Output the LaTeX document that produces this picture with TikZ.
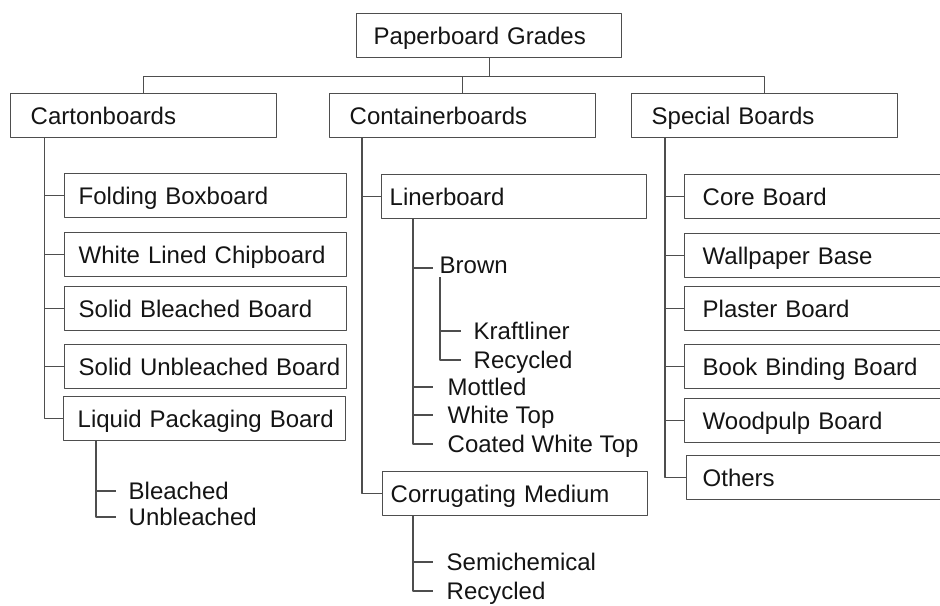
\documentclass[tikz,border=0pt]{standalone}
\usepackage{fontspec}
\setmainfont{Liberation Sans}
\definecolor{linegray}{RGB}{78,78,78}
\definecolor{txtgray}{RGB}{20,20,20}
\begin{document}
\begin{tikzpicture}[line join=bevel,color=linegray,line width=1.4bp,
    every node/.style={text=txtgray,font=\fontsize{24bp}{28bp}\selectfont,text height=17bp,text depth=0bp},
    box/.style={draw,rectangle,anchor=north west,minimum height=44bp,align=left},
    leaf/.style={anchor=west,inner xsep=0bp,inner ysep=3bp}]
    %%
    \useasboundingbox (0bp,0bp) rectangle (940bp,606bp);
    \clip (0bp,0bp) rectangle (940bp,606bp);
    %%
    \node (grades) at (356bp,593bp) [box,text width=231bp,inner xsep=17bp] {Paperboard Grades};
    \node (carton) at (10bp,513bp) [box,text width=226bp,inner xsep=20bp] {Cartonboards};
    \node (container) at (329bp,513bp) [box,text width=226bp,inner xsep=20bp] {Containerboards};
    \node (special) at (631bp,513bp) [box,text width=226bp,inner xsep=20bp] {Special Boards};
    %
    \node (folding) at (64bp,433bp) [box,text width=254bp,inner xsep=14bp] {Folding Boxboard};
    \node (chip) at (64bp,374bp) [box,text width=254bp,inner xsep=14bp] {White Lined Chipboard};
    \node (sbs) at (64bp,320bp) [box,text width=254bp,inner xsep=14bp] {Solid Bleached Board};
    \node (sus) at (64bp,262bp) [box,text width=254bp,inner xsep=14bp] {\mbox{Solid Unbleached Board}};
    \node (liquid) at (63bp,210bp) [box,text width=254bp,inner xsep=14bp] {\mbox{Liquid Packaging Board}};
    \node (bleached) at (128bp,115bp) [leaf] {Bleached};
    \node (unbleached) at (128bp,89bp) [leaf] {Unbleached};
    %
    \node (liner) at (381bp,432bp) [box,text width=249bp,inner xsep=8bp] {Linerboard};
    \node (brown) at (439bp,341bp) [leaf] {Brown};
    \node (kraft) at (473bp,275bp) [leaf] {Kraftliner};
    \node (recyc) at (473bp,246bp) [leaf] {Recycled};
    \node (mottled) at (447bp,219bp) [leaf] {Mottled};
    \node (white) at (447bp,191bp) [leaf] {White Top};
    \node (coated) at (447bp,162bp) [leaf] {Coated White Top};
    \node (medium) at (382bp,135bp) [box,text width=249bp,inner xsep=8bp] {Corrugating Medium};
    \node (semi) at (446bp,44bp) [leaf] {Semichemical};
    \node (recmed) at (446bp,15bp) [leaf] {Recycled};
    %
    \node (core) at (684bp,432bp) [box,text width=264bp,inner xsep=18bp] {Core Board};
    \node (wallpaper) at (684bp,373bp) [box,text width=264bp,inner xsep=18bp] {Wallpaper Base};
    \node (plaster) at (684bp,320bp) [box,text width=264bp,inner xsep=18bp] {Plaster Board};
    \node (binding) at (684bp,262bp) [box,text width=264bp,inner xsep=18bp] {Book Binding Board};
    \node (woodpulp) at (684bp,208bp) [box,text width=264bp,inner xsep=18bp] {Woodpulp Board};
    \node (others) at (686bp,151bp) [box,text width=264bp,inner xsep=16bp] {Others};
    %%
    \draw (grades.south) -- ++(0bp,-18bp) -| (carton.north);
    \draw (grades.south) -- ++(0bp,-18bp) -| (container.north);
    \draw (grades.south) -- ++(0bp,-18bp) -| (special.north);
    %
    \draw ([xshift=34.5bp]carton.south west) |- (folding.west);
    \draw ([xshift=34.5bp]carton.south west) |- (chip.west);
    \draw ([xshift=34.5bp]carton.south west) |- (sbs.west);
    \draw ([xshift=34.5bp]carton.south west) |- (sus.west);
    \draw ([xshift=34.5bp]carton.south west) |- (liquid.west);
    \draw ([xshift=33bp]liquid.south west) |- ([xshift=-12bp]bleached.west);
    \draw ([xshift=33bp]liquid.south west) |- ([xshift=-12bp]unbleached.west);
    %
    \draw ([xshift=33bp]container.south west) |- (liner.west);
    \draw ([xshift=33bp]container.south west) |- (medium.west);
    \draw ([xshift=32bp]liner.south west) |- ([xshift=-6bp,yshift=-3bp]brown.west);
    \draw ([xshift=32bp]liner.south west) |- ([xshift=-14bp]mottled.west);
    \draw ([xshift=32bp]liner.south west) |- ([xshift=-14bp]white.west);
    \draw ([xshift=32bp]liner.south west) |- ([xshift=-14bp]coated.west);
    \draw ([xshift=1bp]brown.south west) |- ([xshift=-12bp]kraft.west);
    \draw ([xshift=1bp]brown.south west) |- ([xshift=-12bp]recyc.west);
    \draw ([xshift=31bp]medium.south west) |- ([xshift=-13bp]semi.west);
    \draw ([xshift=31bp]medium.south west) |- ([xshift=-13bp]recmed.west);
    %
    \draw ([xshift=34bp]special.south west) |- (core.west);
    \draw ([xshift=34bp]special.south west) |- (wallpaper.west);
    \draw ([xshift=34bp]special.south west) |- (plaster.west);
    \draw ([xshift=34bp]special.south west) |- (binding.west);
    \draw ([xshift=34bp]special.south west) |- (woodpulp.west);
    \draw ([xshift=34bp]special.south west) |- (others.west);
    %
\end{tikzpicture}
\end{document}
